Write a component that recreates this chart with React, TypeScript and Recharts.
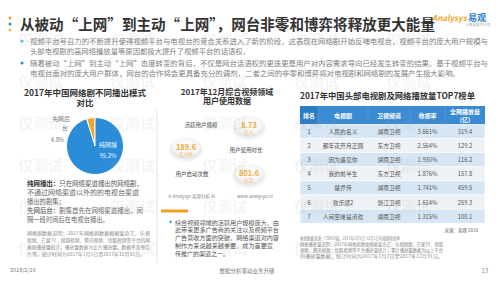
import React from "react";
import { PieChart, Pie, Cell } from "recharts";

const FONT = '"Noto Sans CJK SC", "Noto Sans", sans-serif';

// pie: 2017 网络剧播出模式
const modeNames = ["先网后台", "纯网播"];
const modeShares = [4.8, 95.2];
const modeColors = ["#f3a62a", "#2b8dd8"];

// middle panel metrics
const metricLabels = ["活跃用户规模", "用户使用时长", "用户启动次数"];
const metricValues = ["8.73", "189.6", "801.6"];
const metricUnits = ["亿人", "亿小时", "亿次"];

// TOP7 table
const tableHeaders = ["排名", "电视剧", "卫视频道", "收视率", "全网播放量"];
const rankNos = [1, 2, 3, 4, 5, 6, 7];
const dramaNames = ["人民的名义", "那年花开月正圆", "因为遇见你", "我的前半生", "楚乔传", "欢乐颂2", "人间至味是清欢"];
const channels = ["湖南卫视", "东方卫视", "湖南卫视", "东方卫视", "湖南卫视", "浙江卫视", "湖南卫视"];
const ratings = ["3.661%", "2.564%", "1.930%", "1.876%", "1.741%", "1.614%", "1.315%"];
const plays = ["319.4", "129.2", "116.2", "157.8", "459.5", "259.3", "100.1"];

const modeData = modeNames.map((name, i) => ({ name, value: modeShares[i] }));

const renderModeLabel = (props: any) => {
  const { cx, cy, index, name, value } = props;
  if (index === 0) {
    return (
      <g fontFamily={FONT} fill="#777" fontSize={5.8}>
        <text x={cx - 34} y={cy - 27.5} textAnchor="middle" dominantBaseline="central">{name.slice(0, 3)}</text>
        <text x={cx - 30} y={cy - 18.5} textAnchor="middle" dominantBaseline="central">{name.slice(3)}</text>
        <text x={cx - 37.5} y={cy - 6.5} textAnchor="middle" dominantBaseline="central">{value}%</text>
      </g>
    );
  }
  return (
    <g fontFamily={FONT} fill="#eaf4fd" fontSize={6}>
      <text x={cx + 13} y={cy - 2} textAnchor="middle" dominantBaseline="central">{name}</text>
      <text x={cx + 13} y={cy + 9} textAnchor="middle" dominantBaseline="central">{value}%</text>
    </g>
  );
};

const Txt = ({ x, y, s, c = "#666", b = false, a = "start", len, children }: any) => (
  <text
    x={x}
    y={y}
    fontSize={s}
    fill={c}
    fontWeight={b ? 700 : 400}
    textAnchor={a}
    dominantBaseline="central"
    textLength={len}
    lengthAdjust={len ? "spacingAndGlyphs" : undefined}
  >
    {children}
  </text>
);

const Bubble = ({ cx, cy, value, unit }: any) => (
  <g>
    <ellipse cx={cx} cy={cy + 3} rx={16} ry={10} fill="#000" opacity={0.08} filter="url(#blur)" />
    <ellipse cx={cx} cy={cy} rx={16} ry={10.5} fill="url(#bub)" />
    <text x={cx} y={cy - 2} fontSize={7.5} fontWeight={700} fill="#f2a93b" textAnchor="middle" dominantBaseline="central">{value}</text>
    <text x={cx} y={cy + 5.5} fontSize={4.5} fill="#f2a93b" textAnchor="middle" dominantBaseline="central">{unit}</text>
  </g>
);

const wmCols = [18, 110, 202, 294, 386];
const wmRows = [38, 80, 122, 164, 205, 247];

export default function App() {
  const colCenters = [309, 343, 389, 427.5, 465];
  const colEdges = [300, 318, 368, 410, 445, 485];
  const rowTop = 124.5;
  const rowH = 14.1;
  const bubbles = [
    { cx: 249, cy: 126 },
    { cx: 186, cy: 148 },
    { cx: 249, cy: 174 },
  ];
  const labelPos = [
    { x: 201, y: 125 },
    { x: 246, y: 150 },
    { x: 192, y: 174 },
  ];

  return (
    <div style={{ position: "absolute", left: 0, top: 0, width: 500, height: 281, background: "#fff", overflow: "hidden", fontFamily: FONT }}>
      <svg width={500} height={281} style={{ position: "absolute", left: 0, top: 0 }} fontFamily={FONT}>
        <defs>
          <radialGradient id="bub" cx="50%" cy="40%" r="60%">
            <stop offset="0%" stopColor="#ffffff" />
            <stop offset="70%" stopColor="#f4f4f4" />
            <stop offset="100%" stopColor="#e2e2e2" />
          </radialGradient>
          <filter id="blur"><feGaussianBlur stdDeviation="1.5" /></filter>
        </defs>

        {/* title */}
        <circle cx={10} cy={18} r={1.5} fill="#f0a020" />
        <circle cx={10} cy={24} r={1.5} fill="#2b8dd8" />
        <circle cx={10} cy={30} r={1.5} fill="#f5c542" />
        <Txt x={20} y={23} s={14.5} c="#333" b len={415}>从被动“上网”到主动“上网”，网台非零和博弈将释放更大能量</Txt>
        <text x={432} y={17.5} fontSize={8} fontStyle="italic" fontWeight={700} fill="#f2a52a" dominantBaseline="central">Analysys</text>
        <text x={468} y={17} fontSize={9} fontWeight={700} fill="#2b80d0" dominantBaseline="central">易观</text>
        <Txt x={478} y={24} s={3.5} c="#aaa" a="middle">让数据更有价值</Txt>

        {/* intro bullets */}
        <circle cx={22} cy={41} r={1.6} fill="#6cb4ea" />
        <Txt x={30} y={41} s={7} c="#808080" len={458}>视频平台号召力的不断提升使得视频平台与电视台的竞合关系进入了新的阶段，这表现在网络剧开始反哺电视台，视频平台的庞大用户规模与</Txt>
        <Txt x={30} y={51} s={7} c="#808080" len={220}>头部电视剧的高网络播放量等原因都极大提升了视频平台的话语权。</Txt>
        <circle cx={22} cy={63} r={1.6} fill="#2b8dd8" />
        <Txt x={30} y={63} s={7} c="#808080" len={458}>随着被动“上网”到主动“上网”态度转变的背后，不仅是网台话语权的更迭更是用户对内容需求导向已经发生转变的结果。基于视频平台与</Txt>
        <Txt x={30} y={73} s={7} c="#808080" len={430}>电视台面对的庞大用户群体，网台的合作将会更具备充分的调剂，二者之间的非零和博弈将对电视剧和网络剧的发展产生极大影响。</Txt>

        {/* left panel */}
        <Txt x={85} y={91.5} s={8.5} c="#333" b a="middle">2017年中国网络剧不同播出模式</Txt>
        <Txt x={85} y={101.5} s={8.5} c="#333" b a="middle">对比</Txt>
        <text x={27} y={183} fontSize={6.3} fill="#555" dominantBaseline="central" textLength={116} lengthAdjust="spacingAndGlyphs">
          <tspan fontWeight={700} fill="#333">纯网播出：</tspan>只在网络渠道播出的网络剧，
        </text>
        <Txt x={27} y={192} s={6.3} c="#666" len={112}>不通过网络渠道以外的的电视台渠道</Txt>
        <Txt x={27} y={201} s={6.3} c="#666">播出的剧集；</Txt>
        <text x={27} y={210} fontSize={6.3} fill="#666" dominantBaseline="central" textLength={116} lengthAdjust="spacingAndGlyphs">
          <tspan fill="#444">先网后台：</tspan>剧集首先在网络渠道播出，间
        </text>
        <Txt x={27} y={219} s={6.3} c="#666">隔一段时间后在电视台播出。</Txt>
        <Txt x={27} y={233} s={4.6} c="#888" len={123}>网络剧数据说明：2017年网络剧数据根据爱奇艺、乐视</Txt>
        <Txt x={27} y={240} s={4.6} c="#888" len={123}>视频、芒果TV、搜狐视频、腾讯视频、优酷视频等平台的网</Txt>
        <Txt x={27} y={247} s={4.6} c="#888" len={123}>络剧播放量统计，播放量数据为正片播放量，数据不含预告</Txt>
        <Txt x={27} y={254} s={4.6} c="#888" len={118}>片等。统计时间为2017年1月1日至2017年12月31日。</Txt>
        <Txt x={10} y={270} s={5.5} c="#777">2018/2/10</Txt>
        <line x1={157} y1={110} x2={157} y2={263} stroke="#dcdcdc" strokeWidth={0.8} />
        <rect x={161} y={209.5} width={27} height={3} fill="#f0a020" />

        {/* middle panel */}
        <Txt x={227} y={91.5} s={8} c="#333" b a="middle">2017年12月综合视频领域</Txt>
        <Txt x={227} y={100} s={8} c="#333" b a="middle">用户使用数据</Txt>
        {metricLabels.map((l, i) => (
          <Txt key={l} x={labelPos[i].x} y={labelPos[i].y} s={5.5} c="#444" a="middle">{l}</Txt>
        ))}
        {metricValues.map((v, i) => (
          <Bubble key={v} cx={bubbles[i].cx} cy={bubbles[i].cy} value={v} unit={metricUnits[i]} />
        ))}
        <Txt x={168} y={196} s={4.5} c="#888">© Analysys 易观分析 AI</Txt>
        <Txt x={237} y={196} s={4.5} c="#888">www.analysys.cn</Txt>
        <circle cx={170.5} cy={222} r={1.2} fill="#2b8dd8" />
        <Txt x={175} y={222} s={6} c="#555" len={104}>综合视频领域的活跃用户规模庞大，由</Txt>
        <Txt x={175} y={229.8} s={6} c="#555" len={104}>此带来更多广告商的关注以及视频平台</Txt>
        <Txt x={175} y={237.6} s={6} c="#555" len={104}>广告营收方面的突破，网络渠道对内容</Txt>
        <Txt x={175} y={245.4} s={6} c="#555" len={98}>制作方来说越来越重要，成为首要宣</Txt>
        <Txt x={175} y={253.2} s={6} c="#555">传推广的渠道之一。</Txt>
        <Txt x={247} y={271} s={5.5} c="#777" a="middle">数据分析驱动业务升级</Txt>

        {/* right panel */}
        <Txt x={300} y={94.5} s={8.5} c="#333" b len={175}>2017年中国头部电视剧及网络播放量TOP7榜单</Txt>
        <rect x={300} y={106} width={185} height={18.5} fill="#3b8bd4" />
        <rect x={300} y={106} width={18} height={18.5} fill="#2b7cc6" />
        {tableHeaders.map((h, i) =>
          i === 4 ? (
            <g key={h}>
              <Txt x={colCenters[i]} y={111} s={6} c="#fff" b a="middle">{h}</Txt>
              <Txt x={colCenters[i]} y={119} s={6} c="#fff" b a="middle">(亿)</Txt>
            </g>
          ) : (
            <Txt key={h} x={colCenters[i]} y={115} s={6} c="#fff" b a="middle">{h}</Txt>
          )
        )}
        {rankNos.map((r, i) => {
          const y = rowTop + i * rowH;
          const cy = y + rowH / 2;
          const cells = [String(r), dramaNames[i], channels[i], ratings[i], plays[i]];
          return (
            <g key={r}>
              <rect x={300} y={y} width={185} height={rowH} fill={i % 2 === 0 ? "#d7e6f4" : "#eef1f5"} stroke="#fff" strokeWidth={0.6} />
              {cells.map((c, j) => (
                <Txt key={j} x={colCenters[j]} y={cy} s={5.8} c="#555" a="middle">{c}</Txt>
              ))}
            </g>
          );
        })}
        {colEdges.slice(1, -1).map((x) => (
          <line key={x} x1={x} y1={106} x2={x} y2={124.5} stroke="#5a9edc" strokeWidth={0.6} />
        ))}
        <Txt x={478} y={230} s={4.5} c="#666" a="end">来源：易观 2018</Txt>
        <Txt x={300} y={238} s={4.5} c="#888" len={100}>收视数据来源：CSM59城，2017年1月1日-12月1日电视剧收视率</Txt>
        <Txt x={300} y={244} s={4.5} c="#888" len={143}>网络播放量说明：2017年网络剧数据根据爱奇艺、乐视视频、芒果TV、搜狐</Txt>
        <Txt x={300} y={250} s={4.5} c="#888" len={143}>视频、腾讯视频、优酷视频等平台播放量统计，累计播放量数据为以上平台</Txt>
        <Txt x={300} y={256} s={4.5} c="#888" len={143}>的播放量数据，统计时间为2017年1月1日至2017年12月31日。</Txt>
        <Txt x={485} y={270} s={6} c="#888" a="middle">13</Txt>
      </svg>

      <div style={{ position: "absolute", left: 0, top: 0 }}>
        <PieChart width={160} height={200}>
          <Pie
            data={modeData}
            dataKey="value"
            nameKey="name"
            cx={90}
            cy={141}
            outerRadius={28.5}
            startAngle={90}
            endAngle={450}
            stroke="#fff"
            strokeWidth={1}
            label={renderModeLabel}
            labelLine={false}
            isAnimationActive={false}
          >
            {modeData.map((d, i) => (
              <Cell key={d.name} fill={modeColors[i]} />
            ))}
          </Pie>
        </PieChart>
      </div>

      <svg width={500} height={281} style={{ position: "absolute", left: 0, top: 0, pointerEvents: "none" }} fontFamily={FONT}>
        {wmRows.map((y) =>
          wmCols.map((x) => (
            <text key={`${x}-${y}`} x={x} y={y} fontSize={15} fontWeight={700} fill="#9a9a9a" opacity={0.1} dominantBaseline="central">
              仅测试
            </text>
          ))
        )}
      </svg>
    </div>
  );
}
